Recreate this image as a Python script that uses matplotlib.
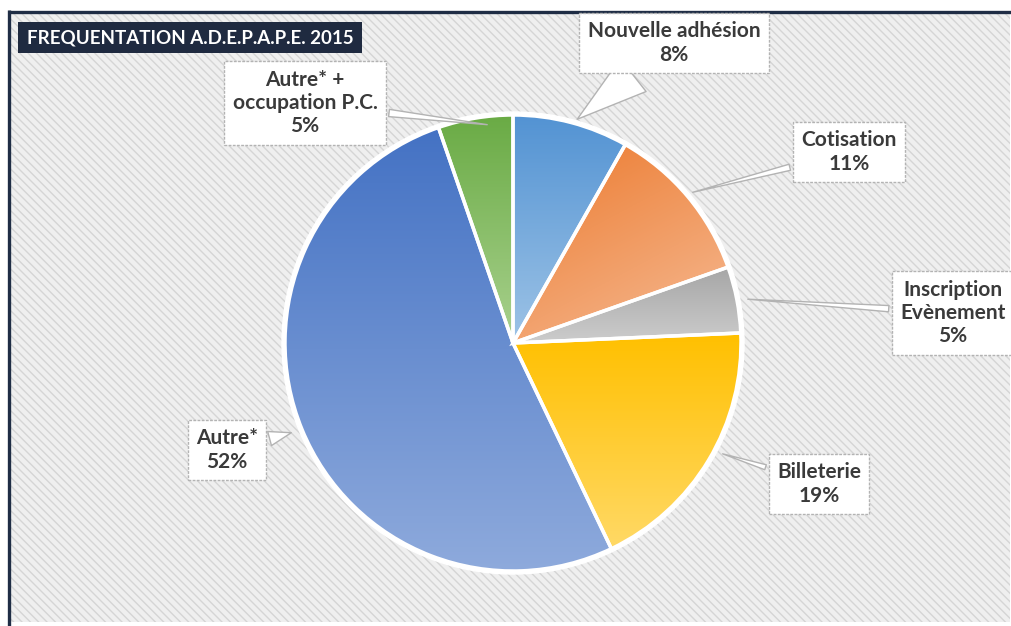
"""
Fréquentation A.D.E.P.A.P.E. 2015 - pie chart with callout labels
"""

import matplotlib.pyplot as plt
import numpy as np
from matplotlib.colors import LinearSegmentedColormap
from matplotlib.patches import Rectangle, Circle

# Data (shares in %)
categories = ["Nouvelle adhésion", "Cotisation", "Inscription\nEvènement",
              "Billeterie", "Autre*", "Autre* +\noccupation P.C."]
shares = [8.2, 11.4, 4.7, 18.6, 51.8, 5.3]
title = "FREQUENTATION A.D.E.P.A.P.E. 2015"

# Slice colours: gradient from dark (top) to light (bottom)
dark = ["#5393d3", "#ec7a2e", "#a6a6a6", "#ffc000", "#4472c4", "#6aab45"]
light = ["#9dc3e6", "#f6bb95", "#cccccc", "#ffd966", "#8eaadc", "#a9d18e"]
grad_angle = [90, 120, 90, 90, 90, 90]  # direction of the gradient (deg)

# Layout in pixel coordinates (y measured from top)
W, H = 1012, 626
center = (513, 343)
radius = 228
label_pos = [(674, 43), (849, 152), (953, 313), (819, 484), (227, 450), (305, 103)]
point_pos = [(575, 121), (690, 193), (745, 299), (720, 453), (294, 432), (490, 125)]
tail_w = [2.0, 0.3, 0.3, 0.25, 0.7, 0.35]

plt.rcParams['font.family'] = ['Lato', 'DejaVu Sans']
plt.rcParams['hatch.linewidth'] = 1.0

fig = plt.figure(figsize=(W / 100, H / 100), dpi=100)
ax = fig.add_axes([0, 0, 1, 1])

# Hatched background + dark frame on left/top
bg = Rectangle((11, H - 622), 999, 609, facecolor="#efefef", edgecolor="#d5d5d5",
               hatch="\\\\\\\\", linewidth=0, zorder=0)
ax.add_patch(bg)
ax.plot([9.5, 9.5], [0, H - 10], color="#1f2d45", lw=2.4, solid_capstyle="butt", zorder=1)
ax.plot([8, W], [H - 11.5, H - 11.5], color="#1f2d45", lw=2.4, solid_capstyle="butt", zorder=1)

# Title box
ax.add_patch(Rectangle((18, H - 53), 344, 31, facecolor="#1f2a40", edgecolor="none", zorder=5))
ax.text(190, H - 37.5, title, color="white", fontsize=13.5, fontweight="bold",
        ha="center", va="center", zorder=6)

# White halo around the pie
ax.add_patch(Circle((center[0], H - center[1]), radius + 3, color="white", zorder=1))

wedges, _ = ax.pie(shares, startangle=90, counterclock=False,
                   center=(center[0], H - center[1]), radius=radius, frame=True,
                   wedgeprops=dict(edgecolor="white", linewidth=2.5))

for i, w in enumerate(wedges):
    v = w.get_path().vertices
    x0, x1 = v[:, 0].min(), v[:, 0].max()
    y0, y1 = v[:, 1].min(), v[:, 1].max()
    # gx: 0 left -> 1 right, gy: 1 top -> 0 bottom (row 0 is drawn at the top)
    gx, gy = np.meshgrid(np.linspace(0, 1, 200), np.linspace(1, 0, 200))
    a = np.deg2rad(grad_angle[i])
    g = (gx - 0.5) * np.cos(a) + (gy - 0.5) * np.sin(a)  # high toward the "dark" side
    g = (g.max() - g) / (g.max() - g.min())  # 0 on dark side, 1 on light side
    cmap = LinearSegmentedColormap.from_list("g%d" % i, [dark[i], light[i]])
    im = ax.imshow(g, extent=(x0, x1, y0, y1), origin="upper", aspect="auto",
                   cmap=cmap, zorder=2)
    im.set_clip_path(w)
    w.set_facecolor("none")
    w.set_zorder(3)

# Callout labels
total = sum(shares)
for i, name in enumerate(categories):
    txt = f"{name}\n{shares[i] / total * 100:.0f}%"
    lx, ly = label_pos[i]
    px, py = point_pos[i]
    ax.annotate(txt, xy=(px, H - py), xytext=(lx, H - ly),
                ha="center", va="center", multialignment="center",
                fontsize=15, fontweight="bold", color="#3a3a3a", linespacing=1.2,
                bbox=dict(boxstyle="square,pad=0.4", fc="white", ec="#b3b3b3",
                          lw=1, ls=(0, (2, 1))),
                arrowprops=dict(arrowstyle=f"wedge,tail_width={tail_w[i]}",
                                fc="white", ec="#b3b3b3", lw=1),
                zorder=6)

ax.set_xlim(0, W)
ax.set_ylim(0, H)
ax.set_aspect("auto")
ax.axis("off")
fig.savefig("out.png", dpi=100)
